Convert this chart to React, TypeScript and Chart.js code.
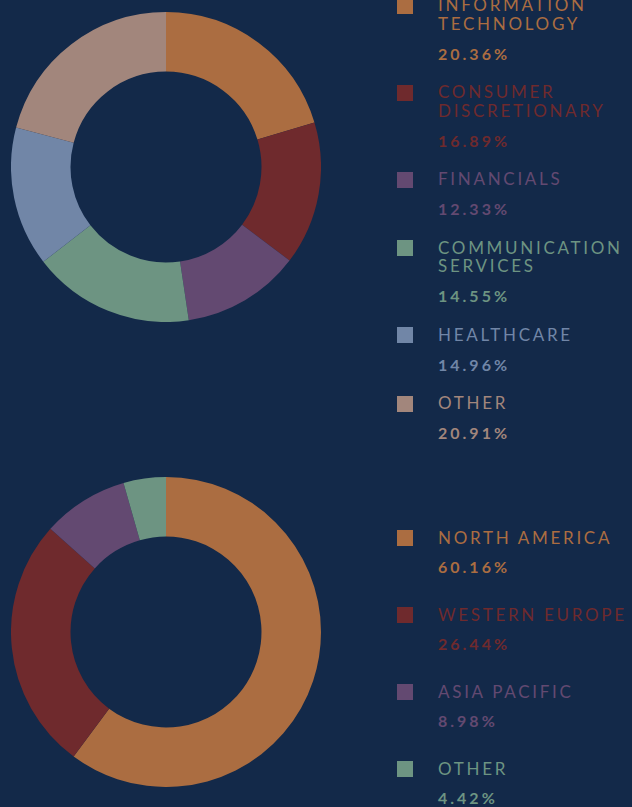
import React, { useEffect, useRef } from "react";
import { Chart, registerables } from "chart.js";

Chart.register(...registerables);

// ---- Data ----
const sectorLabels = [
  "INFORMATION TECHNOLOGY",
  "CONSUMER DISCRETIONARY",
  "FINANCIALS",
  "COMMUNICATION SERVICES",
  "HEALTHCARE",
  "OTHER",
];
// slice sizes as drawn in the ring
const sectorSliceValues = [20.36, 14.96, 12.33, 16.89, 14.55, 20.91];
// percentages printed in the legend
const sectorLegendValues = [20.36, 16.89, 12.33, 14.55, 14.96, 20.91];
const sectorColors = ["#ab6d41", "#6f2a2d", "#634971", "#6d9482", "#7186a7", "#a2867c"];

const regionLabels = ["NORTH AMERICA", "WESTERN EUROPE", "ASIA PACIFIC", "OTHER"];
const regionValues = [60.16, 26.44, 8.98, 4.42];
const regionColors = ["#ab6d41", "#6f2a2d", "#634971", "#6d9482"];

const BG = "#132949";
const FONT = "Lato, 'Noto Sans', sans-serif";

function Doughnut({ labels, values, colors, left, top, size }: any) {
  const ref = useRef<HTMLCanvasElement | null>(null);
  useEffect(() => {
    if (!ref.current) return;
    const chart = new Chart(ref.current, {
      type: "doughnut",
      data: {
        labels,
        datasets: [
          {
            data: values,
            backgroundColor: colors,
            borderWidth: 0,
          },
        ],
      },
      options: {
        responsive: false,
        animation: false,
        cutout: "61.6%",
        layout: { padding: 0 },
        plugins: {
          legend: { display: false },
          tooltip: { enabled: false },
        },
      },
    });
    return () => chart.destroy();
  }, []);
  return (
    <canvas
      ref={ref}
      width={size}
      height={size}
      style={{ position: "absolute", left, top, width: size, height: size }}
    />
  );
}

function Legend({ labels, values, colors, left, top, gap }: any) {
  return (
    <div style={{ position: "absolute", left, top, width: 200 }}>
      {labels.map((l: string, i: number) => (
        <div key={l} style={{ position: "relative", marginBottom: gap }}>
          <div
            style={{
              position: "absolute",
              left: -41,
              top: 1.6,
              width: 16,
              height: 16,
              background: colors[i],
            }}
          />
          <div
            style={{
              color: colors[i],
              fontFamily: FONT,
              fontSize: 17,
              lineHeight: "18.5px",
              letterSpacing: "2.7px",
              fontWeight: 400,
            }}
          >
            {l}
          </div>
          <div
            style={{
              color: colors[i],
              fontFamily: FONT,
              fontSize: 16,
              lineHeight: "20px",
              letterSpacing: "3px",
              fontWeight: 700,
              marginTop: 10.4,
            }}
          >
            {values[i].toFixed(2) + "%"}
          </div>
        </div>
      ))}
    </div>
  );
}

export default function App() {
  return (
    <div
      style={{
        position: "fixed",
        left: 0,
        top: 0,
        width: 632,
        height: 807,
        overflow: "hidden",
        background: BG,
      }}
    >
      <Doughnut labels={sectorLabels} values={sectorSliceValues} colors={sectorColors} left={11} top={12} size={310} />
      <Legend labels={sectorLabels} values={sectorLegendValues} colors={sectorColors} left={438} top={-3.8} gap={19.6} />
      <Doughnut labels={regionLabels} values={regionValues} colors={regionColors} left={11} top={477} size={310} />
      <Legend labels={regionLabels} values={regionValues} colors={regionColors} left={438} top={528.6} gap={28.1} />
    </div>
  );
}
